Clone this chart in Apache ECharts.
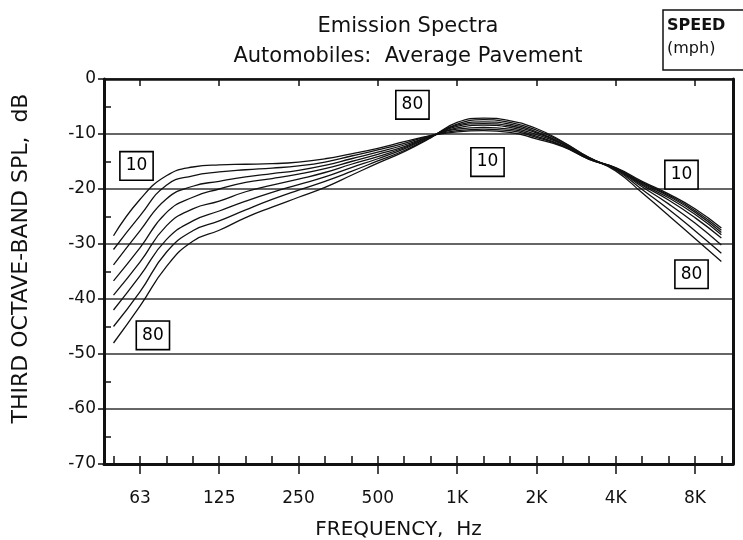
<!DOCTYPE html>
<html><head><meta charset="utf-8">
<script src="https://cdn.jsdelivr.net/npm/echarts@6/dist/echarts.min.js"></script>
<style>html,body{margin:0;padding:0;background:#fff}#c{width:743px;height:540px}</style>
</head><body><div id="c"></div>
<script>
// Third-octave bands (index 0 = 50 Hz ... 23 = 10 kHz)
const bands = ['50','63','80','100','125','160','200','250','315','400','500','630','800','1K','1.25K','1.6K','2K','2.5K','3.15K','4K','5K','6.3K','8K','10K'];
const majorBands = [1, 4, 7, 10, 13, 16, 19, 22];
const majorLabels = ['63', '125', '250', '500', '1K', '2K', '4K', '8K'];
const yTicks = [0, -10, -20, -30, -40, -50, -60, -70];
const speeds = ['10', '20', '30', '40', '50', '60', '70', '80'];

// Relative third-octave SPL (dB) per speed (mph)
const spl10 = [-28.5,-21.9,-17.6,-16.0,-15.6,-15.5,-15.4,-15.1,-14.5,-13.6,-12.6,-11.4,-10.3,-9.6,-9.4,-9.7,-10.9,-12.3,-14.6,-16.1,-18.6,-20.9,-23.6,-27.1];
const spl20 = [-31.0,-24.9,-19.3,-17.6,-16.9,-16.5,-16.2,-15.8,-15.1,-14.0,-12.9,-11.7,-10.3,-9.4,-9.1,-9.4,-10.6,-12.2,-14.6,-16.2,-18.8,-21.1,-23.9,-27.5];
const spl30 = [-33.8,-27.6,-21.8,-19.5,-18.6,-17.8,-17.2,-16.6,-15.7,-14.5,-13.3,-12.0,-10.4,-9.1,-8.8,-9.1,-10.4,-12.1,-14.5,-16.2,-18.9,-21.3,-24.2,-27.9];
const spl40 = [-36.7,-30.7,-24.3,-21.5,-20.0,-18.8,-18.1,-17.3,-16.3,-15.0,-13.7,-12.3,-10.4,-8.9,-8.4,-8.8,-10.1,-11.9,-14.5,-16.3,-19.1,-21.6,-24.6,-28.3];
const spl50 = [-39.3,-33.3,-26.7,-23.6,-22.2,-20.5,-19.3,-18.2,-17.0,-15.5,-14.1,-12.5,-10.5,-8.6,-8.1,-8.5,-9.8,-11.8,-14.4,-16.3,-19.3,-22.0,-25.2,-28.9];
const spl60 = [-42.0,-35.8,-29.2,-25.8,-24.0,-22.2,-20.6,-19.2,-17.8,-16.1,-14.5,-12.7,-10.5,-8.4,-7.8,-8.2,-9.6,-11.7,-14.4,-16.4,-19.6,-22.7,-26.2,-30.2];
const spl70 = [-45.0,-38.7,-31.5,-27.6,-25.8,-23.8,-21.9,-20.2,-18.6,-16.8,-14.9,-13.0,-10.6,-8.2,-7.4,-7.9,-9.3,-11.5,-14.3,-16.5,-20.1,-23.7,-27.6,-31.7];
const spl80 = [-48.0,-41.3,-34.1,-29.5,-27.5,-25.2,-23.3,-21.5,-19.7,-17.5,-15.3,-13.2,-10.7,-7.9,-7.1,-7.6,-9.0,-11.4,-14.3,-16.7,-20.7,-24.8,-29.0,-33.2];
const allSpl = [spl10, spl20, spl30, spl40, spl50, spl60, spl70, spl80];

// Boxed curve annotations: [band position, dB, text]
const notes = [[0.87,-15.8,'10'],[11.31,-4.7,'80'],[14.15,-15.1,'10'],[21.49,-17.4,'10'],[21.87,-35.5,'80'],[1.49,-46.6,'80']];

const FONT = 'DejaVu Sans';
const INK = '#111';
const XMIN = -0.36, XMAX = 23.44;
const bandIdx = bands.map((b, i) => i);
const minorY = [];
for (let v = -65; v < 0; v += 10) minorY.push(v);

const chart = echarts.init(document.getElementById('c'), null, {renderer: 'canvas'});

const series = allSpl.map((arr, k) => ({
  name: speeds[k] + ' mph', type: 'line', xAxisIndex: 0, yAxisIndex: 0,
  data: arr.map((v, i) => [bandIdx[i], v]),
  smooth: 0.5, showSymbol: false, symbol: 'none',
  lineStyle: {color: INK, width: 1.3}, z: 5, silent: true
}));
series.push({
  type: 'scatter', xAxisIndex: 0, yAxisIndex: 0, symbolSize: 0, itemStyle: {color: INK, opacity: 1},
  data: notes.map(n => ({value: [n[0], n[1]], name: n[2]})),
  label: {show: true, position: 'inside', formatter: p => p.name, fontFamily: FONT, fontSize: 17,
    color: '#000', opacity: 1, backgroundColor: '#fff', borderColor: '#000', borderWidth: 1.6, padding: [6, 5, 4, 5]},
  z: 10, silent: true
});

chart.setOption({
  animation: false,
  backgroundColor: '#fff',
  textStyle: {fontFamily: FONT},
  grid: {left: 104, right: 10, top: 79, bottom: 76, containLabel: false, outerBoundsMode: 'none'},
  xAxis: [
    {type: 'value', min: XMIN, max: XMAX, position: 'bottom',
     axisLine: {show: true, onZero: false, lineStyle: {color: INK, width: 3}},
     axisTick: {show: true, inside: true, length: 8, customValues: bandIdx, lineStyle: {color: INK, width: 1.5}},
     axisLabel: {show: false}, splitLine: {show: false}},
    {type: 'value', min: XMIN, max: XMAX, position: 'bottom',
     axisLine: {show: false, onZero: false},
     axisTick: {show: true, inside: false, length: 10, customValues: majorBands, lineStyle: {color: INK, width: 1.5}},
     axisLabel: {show: true, customValues: majorBands, margin: 26, fontFamily: FONT, fontSize: 17, color: INK,
       formatter: v => majorLabels[majorBands.indexOf(Math.round(v))] || ''},
     splitLine: {show: false},
     name: 'FREQUENCY,  Hz', nameLocation: 'middle', nameGap: 56,
     nameTextStyle: {fontFamily: FONT, fontSize: 20, color: INK, padding: [0, 40, 0, 0]}},
    {type: 'value', min: XMIN, max: XMAX, position: 'top',
     axisLine: {show: true, onZero: false, lineStyle: {color: INK, width: 2.5}},
     axisTick: {show: true, inside: true, length: 7, customValues: majorBands, lineStyle: {color: INK, width: 1.5}},
     axisLabel: {show: false}, splitLine: {show: false}}
  ],
  yAxis: [
    {type: 'value', min: -70, max: 0, interval: 10, position: 'left',
     axisLine: {show: true, onZero: false, lineStyle: {color: INK, width: 3}},
     axisTick: {show: true, inside: false, length: 6, lineStyle: {color: INK, width: 1.5}},
     axisLabel: {show: true, margin: 8, fontFamily: FONT, fontSize: 17, color: INK,
       formatter: v => String(yTicks[yTicks.indexOf(v)])},
     splitLine: {show: true, lineStyle: {color: '#333', width: 1.5}},
     name: 'THIRD OCTAVE-BAND SPL,  dB', nameLocation: 'middle', nameGap: 72, nameRotate: 90,
     nameTextStyle: {fontFamily: FONT, fontSize: 22, color: INK, padding: [0, 0, 0, 26]}},
    {type: 'value', min: -70, max: 0, position: 'left',
     axisLine: {show: false, onZero: false},
     axisTick: {show: true, inside: true, length: 7, customValues: minorY, lineStyle: {color: INK, width: 1.5}},
     axisLabel: {show: false}, splitLine: {show: false}},
    {type: 'value', min: -70, max: 0, position: 'right',
     axisLine: {show: true, onZero: false, lineStyle: {color: INK, width: 3}},
     axisTick: {show: false}, axisLabel: {show: false}, splitLine: {show: false}}
  ],
  graphic: [
    {type: 'text', x: 408, y: 16, style: {text: 'Emission Spectra', fontFamily: FONT, fontSize: 21, fill: INK, align: 'center'}, z: 20},
    {type: 'text', x: 408, y: 46, style: {text: 'Automobiles:  Average Pavement', fontFamily: FONT, fontSize: 21, fill: INK, align: 'center'}, z: 20},
    {type: 'rect', shape: {x: 663, y: 10, width: 90, height: 60}, style: {fill: '#fff', stroke: INK, lineWidth: 1.5}, z: 20},
    {type: 'text', x: 667, y: 18, style: {text: 'SPEED', fontFamily: FONT, fontSize: 16, fontWeight: 'bold', fill: INK}, z: 21},
    {type: 'text', x: 667, y: 41, style: {text: '(mph)', fontFamily: FONT, fontSize: 16, fill: INK}, z: 21}
  ],
  series: series
});
</script></body></html>
